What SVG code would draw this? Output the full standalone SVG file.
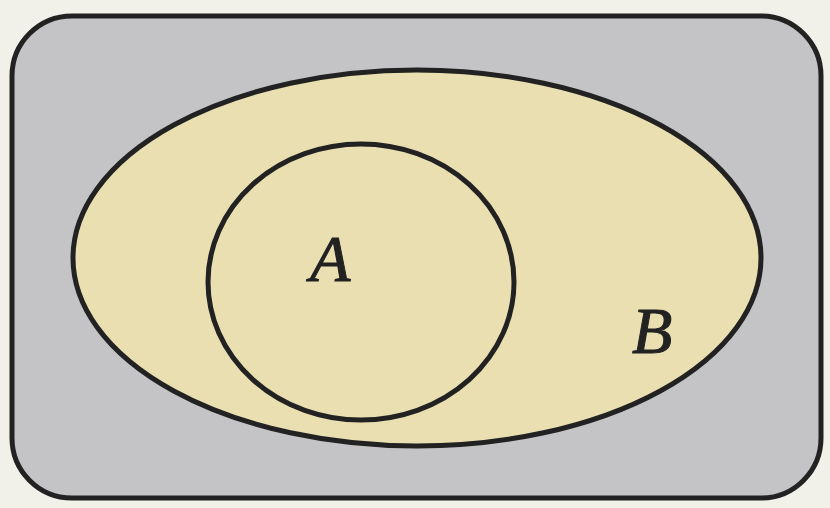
<svg xmlns="http://www.w3.org/2000/svg" width="830" height="508" viewBox="0 0 830 508">
<style>
.ln{stroke:#222;stroke-width:5;}
.lbl{font-family:"Liberation Serif","DejaVu Serif",serif;font-style:italic;font-size:66px;fill:#222;stroke:#222;stroke-width:1;}
</style>
<rect x="0" y="0" width="830" height="508" fill="#f1f1ea"/>
<g id="universe"><rect class="ln" x="12" y="16" width="809" height="482" rx="60" ry="60" fill="#c4c4c6"/></g>
<g id="B"><ellipse class="ln" cx="417" cy="258" rx="344" ry="188" fill="#eadfb1"/>
<text class="lbl" x="632" y="353">B</text></g>
<g id="A"><ellipse class="ln" cx="361" cy="282" rx="153" ry="138" fill="#eadfb1"/>
<text class="lbl" x="310" y="281">A</text></g>
<g id="connectors"/>
</svg>
